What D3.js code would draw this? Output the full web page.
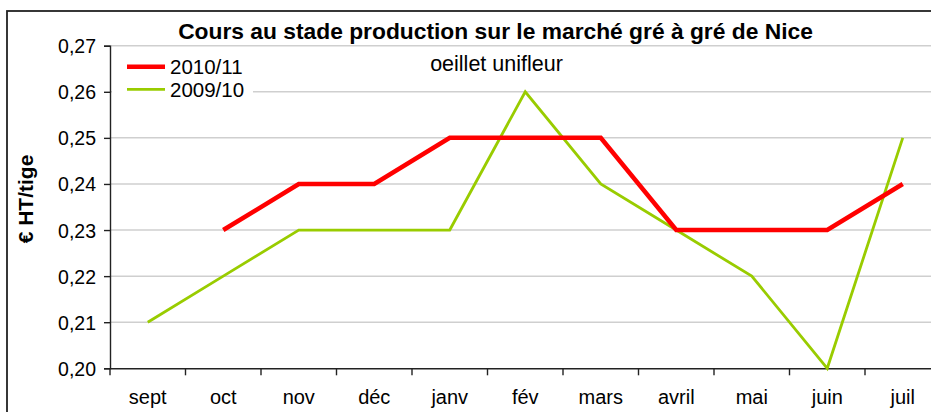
<!DOCTYPE html>
<html><head><meta charset="utf-8">
<script src="https://cdn.jsdelivr.net/npm/d3@7"></script>
<style>body{margin:0;background:#fff}svg{display:block}text{font-family:"Liberation Sans",Arial,sans-serif}</style>
</head><body><svg id="c" width="931" height="412"></svg>
<script>
const months = ["sept","oct","nov","déc","janv","fév","mars","avril","mai","juin","juil"];
const s2010_11 = [null,0.23,0.24,0.24,0.25,0.25,0.25,0.23,0.23,0.23,0.24];
const s2009_10 = [0.21,0.22,0.23,0.23,0.23,0.26,0.24,0.23,0.22,0.20,0.25];
const yTicks = [0.20,0.21,0.22,0.23,0.24,0.25,0.26,0.27];
const seriesNames = ["2010/11","2009/10"];
const colors = ["#ff0000","#99cc00"];
const widths = [4.5,2.8];
const title = "Cours au stade production sur le marché gré à gré de Nice";
const subtitle = "oeillet unifleur";
const yTitle = "€ HT/tige";

const svg = d3.select("#c");
// outer border
svg.append("rect").attr("x",7).attr("y",11).attr("width",940).attr("height",420)
  .attr("fill","#fff").attr("stroke","#222").attr("stroke-width",1.8);

const L=110, R=940.5, T=45.7, B=368.3;
const x = d3.scaleBand().domain(months).range([L,R]).padding(0);
const y = d3.scaleLinear().domain([0.20,0.27]).range([B,T]);

// grid
svg.append("g").selectAll("line").data(yTicks.slice(1)).join("line")
  .attr("x1",L).attr("x2",R).attr("y1",d=>y(d)).attr("y2",d=>y(d))
  .attr("stroke","#cfcfcf").attr("stroke-width",1.5);

// y axis
const fmt = d=>d3.format(".2f")(d).replace(".",",");
const ya = svg.append("g").attr("transform",`translate(${L},0)`)
  .call(d3.axisLeft(y).tickValues(yTicks).tickFormat(fmt).tickSize(6).tickPadding(8));
ya.selectAll("text").attr("font-size","19.5px").attr("fill","#000").attr("dy","0.36em");
ya.selectAll("line,path").attr("stroke","#222").attr("stroke-width",1.4);

// x axis
const xa = svg.append("g").attr("transform",`translate(0,${B})`)
  .call(d3.axisBottom(x).tickSize(0).tickPadding(22));
xa.select("path").attr("stroke","#222").attr("stroke-width",1.6);
xa.selectAll("text").attr("font-size","20px").attr("fill","#000");
// ticks between categories
svg.append("g").selectAll("line").data(months).join("line")
  .attr("x1",d=>x(d)).attr("x2",d=>x(d)).attr("y1",B).attr("y2",B+7)
  .attr("stroke","#222").attr("stroke-width",1.4);

// lines
const line = d3.line().defined(d=>d[1]!=null)
  .x(d=>x(d[0])+x.bandwidth()/2).y(d=>y(d[1]));
[s2009_10,s2010_11].forEach((s,i)=>{
  const idx = i===0?1:0;
  svg.append("path").datum(months.map((m,j)=>[m,s[j]]))
    .attr("d",line).attr("fill","none").attr("stroke",colors[idx])
    .attr("stroke-width",widths[idx]).attr("stroke-linejoin","miter");
});

// legend
const lg = svg.append("g");
lg.append("rect").attr("x",112).attr("y",52).attr("width",141).attr("height",48).attr("fill","#fff");
seriesNames.forEach((n,i)=>{
  const yy = 66.7 + i*22.6;
  lg.append("line").attr("x1",127).attr("x2",165).attr("y1",yy).attr("y2",yy)
    .attr("stroke",colors[i]).attr("stroke-width",widths[i]);
  lg.append("text").attr("x",170).attr("y",yy+7.5).attr("font-size","20.5px").text(n);
});

// titles
svg.append("text").attr("x",495.5).attr("y",39).attr("text-anchor","middle")
  .attr("font-size","22.8px").attr("font-weight","bold").text(title);
svg.append("text").attr("x",496.5).attr("y",71).attr("text-anchor","middle")
  .attr("font-size","21.5px").text(subtitle);
svg.append("text").attr("transform","translate(33,199) rotate(-90)").attr("text-anchor","middle")
  .attr("font-size","21px").attr("font-weight","bold").text(yTitle);
</script></body></html>
